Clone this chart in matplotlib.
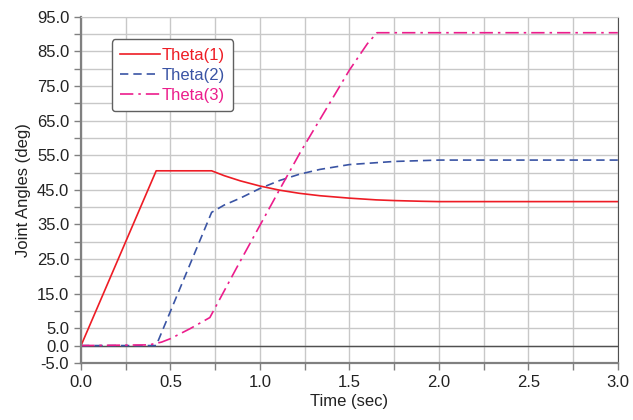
import matplotlib
matplotlib.use("Agg")
import matplotlib.pyplot as plt
from matplotlib.ticker import FixedLocator

plt.rcParams['font.family'] = ['Liberation Sans', 'DejaVu Sans']

# values
t1 = [0.0, 0.42, 0.73, 0.80, 0.89, 1.00, 1.11, 1.22, 1.335, 1.50, 1.65, 1.75, 1.90, 2.0, 3.0]
theta1 = [0.0, 50.5, 50.5, 49.1, 47.6, 46.1, 44.9, 44.0, 43.3, 42.6, 42.1, 41.9, 41.7, 41.6, 41.6]

t2 = [0.0, 0.42, 0.73, 0.80, 0.89, 1.00, 1.11, 1.22, 1.335, 1.50, 1.75, 2.0, 3.0]
theta2 = [0.0, 0.0, 38.5, 40.6, 42.6, 45.4, 47.7, 49.5, 50.9, 52.3, 53.2, 53.6, 53.6]

t3 = [0.0, 0.38, 0.45, 0.50, 0.61, 0.72, 0.87, 1.11, 1.225, 1.50, 1.60, 1.654, 3.0]
theta3 = [0.0, 0.2, 1.0, 2.0, 4.9, 8.1, 22.5, 45.1, 55.8, 79.6, 87.2, 90.4, 90.4]

red = '#ee1c25'
blue = '#3a54a4'
pink = '#ec1d8c'

fig = plt.figure(figsize=(6.33, 4.20), dpi=100)
ax = fig.add_axes([0.128, 0.136, 0.848, 0.824])

ax.plot(t1, theta1, color=red, lw=1.2, label='Theta(1)')
ax.plot(t2, theta2, color=blue, lw=1.2, ls=(0, (5, 3)), label='Theta(2)')
ax.plot(t3, theta3, color=pink, lw=1.2, ls=(0, (8, 3, 1.5, 3)), label='Theta(3)')

ax.set_xlim(0, 3.0)
ax.set_ylim(-5, 95)
ax.xaxis.set_major_locator(FixedLocator([0, 0.5, 1.0, 1.5, 2.0, 2.5, 3.0]))
ax.xaxis.set_minor_locator(FixedLocator([0.25, 0.75, 1.25, 1.75, 2.25, 2.75]))
ax.yaxis.set_major_locator(FixedLocator([-5, 0, 5, 15, 25, 35, 45, 55, 65, 75, 85, 95]))
ax.yaxis.set_minor_locator(FixedLocator([10, 20, 30, 40, 50, 60, 70, 80, 90]))
ax.set_xticklabels(['%.1f' % v for v in [0, 0.5, 1.0, 1.5, 2.0, 2.5, 3.0]])
ax.set_yticklabels(['%.1f' % v for v in [-5, 0, 5, 15, 25, 35, 45, 55, 65, 75, 85, 95]])

ax.grid(True, which='both', color='#c8c8c8', lw=1.0)
ax.set_axisbelow(True)
ax.axhline(0, color='#505050', lw=1.0, zorder=1)

for s in ax.spines.values():
    s.set_color('#808080')
ax.spines['left'].set_linewidth(1.6)
ax.spines['bottom'].set_linewidth(1.6)
ax.spines['top'].set_color('#c8c8c8')
ax.spines['right'].set_color('#505050')

ax.tick_params(which='both', direction='out', length=5, width=1, color='#808080',
               labelsize=12, labelcolor='#222222')
ax.set_xlabel('Time (sec)', fontsize=12, color='#222222', labelpad=3)
ax.set_ylabel('Joint Angles (deg)', fontsize=12, color='#222222', labelpad=4)

leg = ax.legend(loc='upper left', bbox_to_anchor=(0.058, 0.935), borderaxespad=0,
                fontsize=12, handlelength=2.4, handletextpad=0.05, labelspacing=0.3,
                borderpad=0.5, fancybox=True, framealpha=1, edgecolor='#606060')
leg.get_frame().set_linewidth(1.0)
for txt, c in zip(leg.get_texts(), [red, blue, pink]):
    txt.set_color(c)

fig.savefig('out.png', dpi=100)
